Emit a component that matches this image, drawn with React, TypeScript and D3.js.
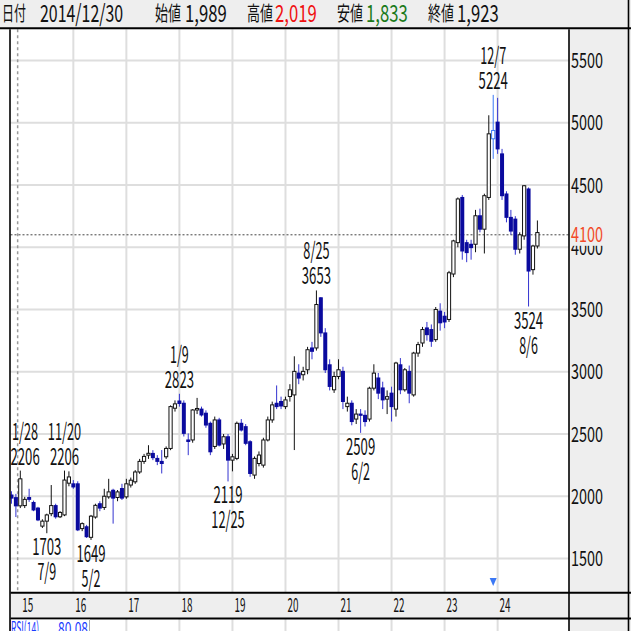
import React from "react";
import * as d3 from "d3";

// ---------- data (monthly candles) ----------
const months: string[] = [
  "2014-11", "2014-12",
  "2015-01", "2015-02", "2015-03", "2015-04", "2015-05", "2015-06", "2015-07", "2015-08", "2015-09", "2015-10", "2015-11", "2015-12",
  "2016-01", "2016-02", "2016-03", "2016-04", "2016-05", "2016-06", "2016-07", "2016-08", "2016-09", "2016-10", "2016-11", "2016-12",
  "2017-01", "2017-02", "2017-03", "2017-04", "2017-05", "2017-06", "2017-07", "2017-08", "2017-09", "2017-10", "2017-11", "2017-12",
  "2018-01", "2018-02", "2018-03", "2018-04", "2018-05", "2018-06", "2018-07", "2018-08", "2018-09", "2018-10", "2018-11", "2018-12",
  "2019-01", "2019-02", "2019-03", "2019-04", "2019-05", "2019-06", "2019-07", "2019-08", "2019-09", "2019-10", "2019-11", "2019-12",
  "2020-01", "2020-02", "2020-03", "2020-04", "2020-05", "2020-06", "2020-07", "2020-08", "2020-09", "2020-10", "2020-11", "2020-12",
  "2021-01", "2021-02", "2021-03", "2021-04", "2021-05", "2021-06", "2021-07", "2021-08", "2021-09", "2021-10", "2021-11", "2021-12",
  "2022-01", "2022-02", "2022-03", "2022-04", "2022-05", "2022-06", "2022-07", "2022-08", "2022-09", "2022-10", "2022-11", "2022-12",
  "2023-01", "2023-02", "2023-03", "2023-04", "2023-05", "2023-06", "2023-07", "2023-08", "2023-09", "2023-10", "2023-11", "2023-12",
  "2024-01", "2024-02", "2024-03", "2024-04", "2024-05", "2024-06", "2024-07", "2024-08", "2024-09", "2024-10",
];

const opens: number[] = [
  2010, 1989,
  1923, 1925, 1990, 1950, 1905, 1760, 1800, 1860, 1925, 1835, 1850, 2105,
  2100, 2100, 1740, 1755, 1670, 1833, 1940, 1910, 1995, 2048, 1990, 2062,
  1995, 2090, 2116, 2195, 2280, 2330, 2344, 2304, 2280, 2317, 2384, 2707,
  2765, 2747, 2452, 2452, 2693, 2700, 2667, 2586, 2400, 2613, 2420, 2478,
  2290, 2304, 2586, 2559, 2438, 2170, 2263, 2250, 2452, 2613, 2747, 2761,
  2720, 2801, 2814, 2989, 2976, 3016, 3191, 3191, 3594, 3312, 3056, 2855,
  2962, 3003, 2720, 2747, 2620, 2660, 2650, 2620, 2868, 2950, 2870, 2780,
  2828, 2700, 3056, 2855, 3003, 2814, 3150, 3231, 3352, 3339, 3258, 3487,
  3446, 3420, 3785, 4037, 4400, 4037, 4024, 4024, 4253, 4145, 4400, 4871,
  5005, 4750, 4428, 4240, 4226, 3984, 4091, 4468, 3820, 4010,
];

const highs: number[] = [
  2040, 2019,
  2206, 1995, 2060, 1965, 1915, 1815, 1860, 2090, 1940, 1880, 2206, 2200,
  2130, 2120, 1790, 1770, 1850, 1940, 1960, 2060, 2140, 2060, 2050, 2100,
  2140, 2150, 2210, 2300, 2340, 2410, 2370, 2330, 2371, 2400, 2730, 2770,
  2823, 2770, 2505, 2700, 2790, 2720, 2690, 2600, 2640, 2630, 2500, 2500,
  2340, 2600, 2620, 2580, 2450, 2320, 2360, 2470, 2640, 2760, 2890, 2800,
  2800, 2900, 3124, 3060, 3040, 3200, 3240, 3653, 3600, 3350, 3100, 3000,
  3100, 3040, 2800, 2770, 2700, 2700, 2690, 2880, 3060, 2990, 2920, 2850,
  2880, 3080, 3110, 3030, 3050, 3160, 3240, 3360, 3400, 3380, 3520, 3550,
  3480, 3810, 4060, 4400, 4420, 4060, 4060, 4300, 4310, 4430, 5060, 5224,
  5200, 4790, 4450, 4300, 4250, 4120, 4500, 4480, 4020, 4215,
];

const lows: number[] = [
  1940, 1833,
  1905, 1905, 1955, 1880, 1800, 1745, 1703, 1840, 1820, 1825, 1840, 2080,
  2060, 1720, 1720, 1665, 1649, 1820, 1880, 1890, 1980, 1780, 1960, 1970,
  1980, 2070, 2100, 2180, 2260, 2300, 2290, 2250, 2183, 2300, 2370, 2680,
  2720, 2480, 2330, 2430, 2660, 2640, 2550, 2330, 2380, 2400, 2380, 2119,
  2200, 2290, 2520, 2410, 2156, 2140, 2240, 2230, 2440, 2590, 2700, 2700,
  2700, 2760, 2371, 2900, 2930, 2980, 3100, 3170, 3280, 2990, 2850, 2830,
  2940, 2700, 2680, 2570, 2580, 2509, 2560, 2600, 2850, 2780, 2700, 2660,
  2600, 2640, 2820, 2840, 2747, 2800, 3120, 3200, 3250, 3200, 3240, 3330,
  3350, 3400, 3760, 4000, 3900, 3880, 3900, 3960, 4120, 3950, 4380, 4710,
  4750, 4380, 4200, 4100, 3940, 3950, 4060, 3524, 3780, 3990,
];

const closes: number[] = [
  1985, 1923,
  2140, 1975, 1975, 1890, 1810, 1800, 1850, 1925, 1835, 1870, 2130, 2155,
  2075, 1730, 1780, 1675, 1840, 1927, 1905, 2000, 2035, 1985, 2035, 1985,
  2100, 2129, 2195, 2280, 2320, 2345, 2310, 2280, 2263, 2384, 2720, 2742,
  2745, 2505, 2440, 2693, 2705, 2653, 2572, 2357, 2613, 2411, 2478, 2290,
  2317, 2586, 2532, 2425, 2183, 2304, 2331, 2452, 2613, 2734, 2720, 2725,
  2774, 2855, 3003, 2949, 3003, 3177, 3164, 3540, 3312, 3016, 2882, 2962,
  3016, 2761, 2747, 2600, 2660, 2650, 2600, 2868, 2989, 2828, 2774, 2800,
  2720, 3070, 2855, 3016, 2828, 3150, 3218, 3339, 3298, 3245, 3500, 3393,
  3400, 3795, 4051, 4388, 3970, 3957, 3997, 4253, 4145, 4414, 4911, 4938,
  4790, 4414, 4240, 4130, 3984, 4100, 4494, 3809, 4010, 4118,
];

const yearTicks: number[] = [2015, 2016, 2017, 2018, 2019, 2020, 2021, 2022, 2023, 2024];
const yearLabels: string[] = ["15", "16", "17", "18", "19", "20", "21", "22", "23", "24"];
const priceTicks: number[] = [1500, 2000, 2500, 3000, 3500, 4000, 4500, 5000, 5500];

const annotMonths: string[] = ["2015-01", "2015-07", "2015-11", "2016-05", "2018-01", "2018-12", "2020-08", "2021-06", "2023-12", "2024-08"];
const annotDates: string[] = ["1/28", "7/9", "11/20", "5/2", "1/9", "12/25", "8/25", "6/2", "12/7", "8/6"];
const annotValues: number[] = [2206, 1703, 2206, 1649, 2823, 2119, 3653, 2509, 5224, 3524];
const annotKinds: string[] = ["high", "low", "high", "low", "high", "low", "high", "low", "high", "low"];

const headerDate = "2014/12/30";
const headerMonth = "2014-12";
const crosshairPrice = 4100;
const highlightMonth = "2023-12";
const rsiLabel = "RSI(14)";
const rsiValue = "80.08";

// ---------- layout ----------
const W = 631;
const H = 631;
const plotL = 10.5;
const plotR = 569;
const plotT = 29.3;
const plotB = 592;
const FONT = "'Noto Sans CJK JP', 'Noto Sans', sans-serif";

const monthIndex = (m: string) => {
  const [yy, mo] = m.split("-").map(Number);
  return (yy - 2015) * 12 + (mo - 1);
};

const x = d3.scaleLinear().domain([0, 117]).range([20.3, 537.4]);
const y = d3.scaleLinear().domain([1500, 5500]).range([558.5, 60.5]);

const tlen = (s: string, dw: number, sw: number) =>
  s.split("").reduce((a, ch) => a + (/[0-9]/.test(ch) ? dw : sw), 0);

export default function App() {
  const fmt = d3.format(",");
  const hi = months.indexOf(headerMonth);
  const candles = months.map((m, i) => ({
    m,
    i: monthIndex(m),
    o: opens[i],
    h: highs[i],
    l: lows[i],
    c: closes[i],
  }));

  const blueFill = "#0a0a9e";
  const blueWick = "#3434d0";
  const hlColor = "#3b78f5";

  const crossX = x(monthIndex(headerMonth) + 0.4);
  const crossY = y(crosshairPrice);

  const headerItems = [
    { lab: "始値", val: fmt(opens[hi]), color: "#111", lx: 155, vx: 185 },
    { lab: "高値", val: fmt(highs[hi]), color: "#f01010", lx: 247, vx: 275 },
    { lab: "安値", val: fmt(lows[hi]), color: "#1a7a1a", lx: 337, vx: 366 },
    { lab: "終値", val: fmt(closes[hi]), color: "#111", lx: 428, vx: 457 },
  ];
  const hx = x(monthIndex(highlightMonth));

  return (
    <svg
      width={W}
      height={H}
      style={{ position: "absolute", left: 0, top: 0, background: "#fff", fontFamily: FONT }}
    >
      <defs>
        <clipPath id="plotClip">
          <rect x={plotL} y={plotT} width={plotR - plotL} height={plotB - plotT} />
        </clipPath>
      </defs>

      {/* header */}
      <rect x={0} y={0} width={W} height={plotT} fill="#eeeeee" />
      <text x={2} y={21} fontSize={20} textLength={24} lengthAdjust="spacingAndGlyphs" fill="#111">日付</text>
      <text x={40} y={22} fontSize={24} textLength={tlen(headerDate, 9.2, 4.8)} lengthAdjust="spacingAndGlyphs" fill="#111">
        {headerDate}
      </text>
      {headerItems.map((d) => (
        <g key={d.lab}>
          <text x={d.lx} y={21} fontSize={20} textLength={26} lengthAdjust="spacingAndGlyphs" fill="#111">{d.lab}</text>
          <text x={d.vx} y={22} fontSize={24} textLength={tlen(d.val, 9.3, 4.5)} lengthAdjust="spacingAndGlyphs" fill={d.color}>
            {d.val}
          </text>
        </g>
      ))}

      {/* right axis background */}
      <rect x={plotR} y={plotT} width={W - plotR} height={H - plotT} fill="#eeeeee" />

      {/* grid */}
      <g stroke="#dedede" strokeWidth={2}>
        {priceTicks.map((v) => (
          <line key={v} x1={plotL} x2={plotR} y1={y(v)} y2={y(v)} />
        ))}
        {yearTicks.slice(1).map((yr) => (
          <line key={yr} x1={x((yr - 2015) * 12)} x2={x((yr - 2015) * 12)} y1={plotT} y2={plotB} />
        ))}
        {yearTicks.slice(1).map((yr) => (
          <line key={"b" + yr} x1={x((yr - 2015) * 12)} x2={x((yr - 2015) * 12)} y1={619} y2={H} />
        ))}
      </g>

      {/* crosshair */}
      <line x1={crossX} x2={crossX} y1={plotT} y2={plotB} stroke="#9a9a9a" strokeWidth={1.5} strokeDasharray="3,3" />
      <line x1={plotL} x2={plotR} y1={crossY} y2={crossY} stroke="#444" strokeWidth={1} strokeDasharray="2,2" />

      {/* candles */}
      <g clipPath="url(#plotClip)">
        {candles.map((d) => {
          const cx = x(d.i);
          const up = d.c >= d.o;
          const top = y(Math.max(d.o, d.c));
          const bh = Math.max(1, Math.abs(y(d.o) - y(d.c)));
          const isHl = d.m === highlightMonth;
          const wickColor = isHl ? hlColor : up ? "#111" : blueWick;
          return (
            <g key={d.m}>
              <line x1={cx} x2={cx} y1={y(d.h)} y2={y(d.l)} stroke={wickColor} strokeWidth={1} />
              {up ? (
                <rect x={cx - 1.6} y={top} width={3.2} height={bh} fill="#fff" stroke={isHl ? hlColor : "#111"} strokeWidth={1} />
              ) : (
                <rect x={cx - 2} y={top - 0.5} width={4} height={bh + 1} fill={blueFill} />
              )}
            </g>
          );
        })}
      </g>

      {/* annotations */}
      <g fill="#111">
        {annotMonths.map((m, k) => {
          const cx0 = x(monthIndex(m));
          const v = String(annotValues[k]);
          const dt = annotDates[k];
          const wv = tlen(v, 7.3, 4.2);
          const wd = tlen(dt, 7.3, 4.2);
          const cx = Math.max(cx0, plotL + Math.max(wv, wd) / 2);
          const yy = y(annotValues[k]);
          const high = annotKinds[k] === "high";
          const vb = high ? yy - 6 : yy + 22;
          const db = high ? yy - 31 : yy + 47;
          return (
            <g key={m}>
              <text x={cx} y={vb} fontSize={23} textAnchor="middle" textLength={wv} lengthAdjust="spacingAndGlyphs">{v}</text>
              <text x={cx} y={db} fontSize={23} textAnchor="middle" textLength={wd} lengthAdjust="spacingAndGlyphs">{dt}</text>
            </g>
          );
        })}
      </g>

      {/* highlight marker */}
      <path d={`M${hx - 3.5},578 L${hx + 3.5},578 L${hx},586 Z`} fill={hlColor} />

      {/* right axis labels */}
      <g fill="#111">
        {priceTicks.map((v) => (
          <text key={v} x={571} y={y(v)} dy="0.36em" fontSize={21} textLength={32} lengthAdjust="spacingAndGlyphs">
            {v}
          </text>
        ))}
      </g>
      <rect x={570} y={crossY - 11} width={56} height={22} fill="#eeeeee" />
      <text x={571} y={crossY} dy="0.36em" fontSize={21} textLength={32} lengthAdjust="spacingAndGlyphs" fill="#f24a28">
        {crosshairPrice}
      </text>

      {/* x axis strip */}
      <rect x={plotL} y={plotB} width={plotR - plotL} height={619 - plotB} fill="#eeeeee" />
      {yearTicks.map((yr, k) => (
        <text
          key={yr}
          x={x((yr - 2015) * 12) + 2}
          y={612}
          fontSize={19}
          textLength={11}
          lengthAdjust="spacingAndGlyphs"
          fill="#111"
        >
          {yearLabels[k]}
        </text>
      ))}
      <line x1={plotL} x2={W} y1={592.8} y2={592.8} stroke="#000" strokeWidth={2} />
      <line x1={plotL} x2={W} y1={618.5} y2={618.5} stroke="#000" strokeWidth={2} />

      {/* RSI panel title (cut off by the window edge) */}
      <rect x={plotL} y={619.5} width={79} height={14} fill="#fff" stroke="#aaaaaa" strokeWidth={1} />
      <text x={11} y={635} fontSize={18} textLength={28} lengthAdjust="spacingAndGlyphs" fill="#1a3cff">{rsiLabel}</text>
      <text x={58} y={635} fontSize={18} textLength={30} lengthAdjust="spacingAndGlyphs" fill="#1a3cff">{rsiValue}</text>

      {/* borders */}
      <line x1={10} x2={10} y1={plotT} y2={H} stroke="#000" strokeWidth={1.6} />
      <line x1={569} x2={569} y1={plotT} y2={H} stroke="#000" strokeWidth={1.6} />
      <line x1={628.5} x2={628.5} y1={0} y2={H} stroke="#000" strokeWidth={1.6} />
      <line x1={0} x2={W} y1={28.3} y2={28.3} stroke="#000" strokeWidth={2} />
    </svg>
  );
}
